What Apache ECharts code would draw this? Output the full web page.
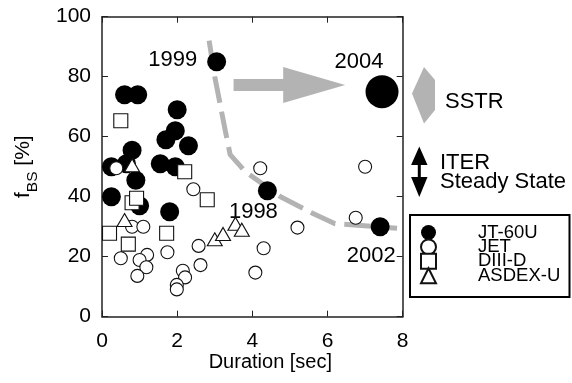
<!DOCTYPE html>
<html>
<head>
<meta charset="utf-8">
<script src="https://cdn.jsdelivr.net/npm/echarts@6/dist/echarts.min.js"></script>
<style>
  html, body { margin: 0; padding: 0; background: #fff; }
  #chart { width: 572px; height: 383px; }
</style>
</head>
<body>
<div id="chart"></div>
<script>
// Bootstrap current fraction f_BS versus discharge duration for several tokamaks.

// JT-60U discharges [sec], [%]
const jt60Dur = [0.6, 0.95, 2.0, 1.95, 1.7, 2.3, 0.8, 0.25, 0.65, 1.55, 1.95, 0.9, 0.25, 1.0, 1.8];
const jt60Fbs = [74, 74, 69, 62, 59, 57, 55.5, 50, 51, 51, 50, 45.5, 40, 37, 35];

// JT-60U milestone discharges
const milestoneYear = ['1999', '2004', '1998', '2002'];
const milestoneDur = [3.05, 7.45, 4.4, 7.4];
const milestoneFbs = [85, 75, 42, 30];

// JET
const jetDur = [0.38, 2.43, 0.8, 1.1, 0.5, 1.2, 1.0, 1.18, 0.94, 1.74, 2.57, 2.15, 2.21, 1.99, 1.99, 2.62,
                4.21, 7.0, 6.75, 5.2, 4.3, 4.08];
const jetFbs = [49.5, 42.5, 30, 30, 19.5, 20.6, 18.9, 16.5, 13.6, 21.5, 23.6, 15.3, 13.1, 10.6, 9.1, 17.2,
                49.5, 50, 33, 29.7, 22.8, 14.7];

// DIII-D
const diiidDur = [0.5, 2.2, 2.8, 0.8, 0.92, 0.2, 0.7, 1.72];
const diiidFbs = [65.3, 48.3, 39, 38, 39.5, 27.8, 24.2, 27.8];

// ASDEX-U
const asdexDur = [0.8, 0.6, 3.0, 3.22, 3.55, 3.72];
const asdexFbs = [50.5, 32.2, 25.8, 27.6, 31, 29];

// Envelope of achieved performance
const boundaryDur = [2.85, 3.0, 3.28, 3.41, 3.8, 4.75, 5.6, 6.2, 6.8, 7.85];
const boundaryFbs = [92, 80, 62, 54, 48.5, 40, 34.5, 31, 30.5, 29.5];

// Axis ticks
const durationTicks = [0, 2, 4, 6, 8];
const fbsTicks = [0, 20, 40, 60, 80, 100];

// Progress arrow ends (duration, f_BS)
const progressFrom = [3.5, 77.2];
const progressTo = [6.47, 77.2];

// ---- styling ----
const FONT = '"Liberation Sans", Arial, Helvetica, sans-serif';
const GREY = '#b3b3b3';
const milestoneLabelOffset = [[-44, -2], [-23, -30], [-14, 21], [-9, 29]];
const milestoneSymbolSize = [19, 33, 19, 19];

const zip = (xs, ys) => xs.map((x, i) => [x, ys[i]]);

const jt60Data = zip(jt60Dur, jt60Fbs).concat(
  milestoneYear.map((year, i) => ({
    value: [milestoneDur[i], milestoneFbs[i]],
    symbolSize: milestoneSymbolSize[i],
    label: {
      show: true,
      formatter: year,
      position: 'inside',
      offset: milestoneLabelOffset[i],
      color: '#000',
      fontSize: 22,
      fontFamily: FONT
    }
  }))
);

const openStyle = { color: '#fff', borderColor: '#111', borderWidth: 1.1, opacity: 1 };
const axisLineStyle = { color: '#222', width: 1.5 };

const chart = echarts.init(document.getElementById('chart'), null, { renderer: 'canvas' });

const frameAxis = (extra) => Object.assign({
  type: 'value',
  axisLine: { show: true, onZero: false, lineStyle: axisLineStyle },
  axisTick: { show: true, inside: true, length: 6, lineStyle: { color: '#222', width: 1 } },
  splitLine: { show: false }
}, extra);

chart.setOption({
  animation: false,
  backgroundColor: '#fff',
  grid: {
    left: 102, top: 16.7, right: 169.3, bottom: 66.3,
    containLabel: false,
    outerBoundsMode: 'none'
  },
  xAxis: [
    frameAxis({
      position: 'bottom',
      min: durationTicks[0],
      max: durationTicks[durationTicks.length - 1],
      interval: durationTicks[1] - durationTicks[0],
      name: 'Duration [sec]',
      nameLocation: 'middle',
      nameGap: 36,
      nameMoveOverlap: false,
      nameTextStyle: { fontSize: 20, fontFamily: FONT, color: '#000', padding: [0, 0, 0, 36] },
      axisLabel: { fontSize: 21, fontFamily: FONT, color: '#000', margin: 14 }
    }),
    frameAxis({
      position: 'top',
      min: durationTicks[0],
      max: durationTicks[durationTicks.length - 1],
      interval: durationTicks[1] - durationTicks[0],
      axisLabel: { show: false }
    })
  ],
  yAxis: [
    frameAxis({
      position: 'left',
      min: fbsTicks[0],
      max: fbsTicks[fbsTicks.length - 1],
      interval: fbsTicks[1] - fbsTicks[0],
      name: '{f|f}{s|BS}{f| [%]}',
      nameLocation: 'middle',
      nameRotate: 90,
      nameGap: 49.5,
      nameMoveOverlap: false,
      nameTextStyle: {
        color: '#000',
        fontFamily: FONT,
        rich: {
          f: { fontSize: 21, lineHeight: 20, verticalAlign: 'top', fontFamily: FONT, color: '#000' },
          s: { fontSize: 15.5, lineHeight: 40, fontFamily: FONT, color: '#000' }
        }
      },
      axisLabel: { fontSize: 21, fontFamily: FONT, color: '#000', margin: 11 }
    }),
    frameAxis({
      position: 'right',
      min: fbsTicks[0],
      max: fbsTicks[fbsTicks.length - 1],
      interval: fbsTicks[1] - fbsTicks[0],
      axisLabel: { show: false }
    })
  ],
  legend: {
    orient: 'vertical',
    left: 420,
    top: 223,
    padding: 0,
    itemGap: -4.6,
    itemWidth: 15,
    itemHeight: 15,
    selectedMode: false,
    data: ['JT-60U', 'JET', 'DIII-D', 'ASDEX-U'],
    textStyle: { fontSize: 18.5, fontFamily: FONT, color: '#000', lineHeight: 16, padding: [0, 0, 0, 37] }
  },
  series: [
    {
      name: 'envelope',
      type: 'line',
      data: zip(boundaryDur, boundaryFbs),
      symbol: 'none',
      silent: true,
      z: 1,
      lineStyle: { color: GREY, width: 5, type: [27, 9], cap: 'butt', opacity: 1 }
    },
    {
      name: 'JT-60U',
      type: 'scatter',
      data: jt60Data,
      symbol: 'circle',
      symbolSize: 19,
      itemStyle: { color: '#000', opacity: 1 },
      z: 2
    },
    {
      name: 'JET',
      type: 'scatter',
      data: zip(jetDur, jetFbs),
      symbol: 'circle',
      symbolSize: 13,
      itemStyle: openStyle,
      z: 3
    },
    {
      name: 'DIII-D',
      type: 'scatter',
      data: zip(diiidDur, diiidFbs),
      symbol: 'rect',
      symbolSize: 14,
      itemStyle: openStyle,
      z: 4
    },
    {
      name: 'ASDEX-U',
      type: 'scatter',
      data: zip(asdexDur, asdexFbs),
      symbol: 'triangle',
      symbolSize: [15, 13],
      itemStyle: openStyle,
      z: 5
    }
  ]
});

// Annotations: progress arrow in data space, side arrows, texts and legend frame
const a = chart.convertToPixel({ gridIndex: 0 }, progressFrom);
const b = chart.convertToPixel({ gridIndex: 0 }, progressTo);
const headLen = 62, headHalf = 18, shaftHalf = 6;
const yc = (a[1] + b[1]) / 2;
const xb = b[0] - headLen;

const text = (str, x, y, size) => ({
  type: 'text', x: x, y: y, silent: true,
  style: { text: str, fontSize: size, fontFamily: FONT, fill: '#000', align: 'left', verticalAlign: 'middle' }
});

chart.setOption({
  graphic: [
    {
      type: 'polygon', silent: true, z: 0,
      shape: { points: [
        [a[0], yc - shaftHalf], [xb, yc - shaftHalf], [xb, yc - headHalf], [b[0], yc],
        [xb, yc + headHalf], [xb, yc + shaftHalf], [a[0], yc + shaftHalf]
      ] },
      style: { fill: GREY }
    },
    {
      type: 'polygon', silent: true,
      shape: { points: [[412, 93.5], [424, 67], [435, 80], [435, 110], [424, 123.5]] },
      style: { fill: GREY }
    },
    text('SSTR', 445, 102, 22),
    {
      type: 'polygon', silent: true,
      shape: { points: [
        [419.3, 146.5], [427.5, 165], [420.8, 165], [420.8, 177], [427.5, 177], [419.3, 197],
        [411.1, 177], [417.8, 177], [417.8, 165], [411.1, 165]
      ] },
      style: { fill: '#000' }
    },
    text('ITER', 440, 163, 22),
    text('Steady State', 440, 182, 22),
    {
      type: 'rect', silent: true,
      shape: { x: 410, y: 215, width: 159.5, height: 82 },
      style: { fill: 'none', stroke: '#000', lineWidth: 2 }
    }
  ]
});
</script>
</body>
</html>
